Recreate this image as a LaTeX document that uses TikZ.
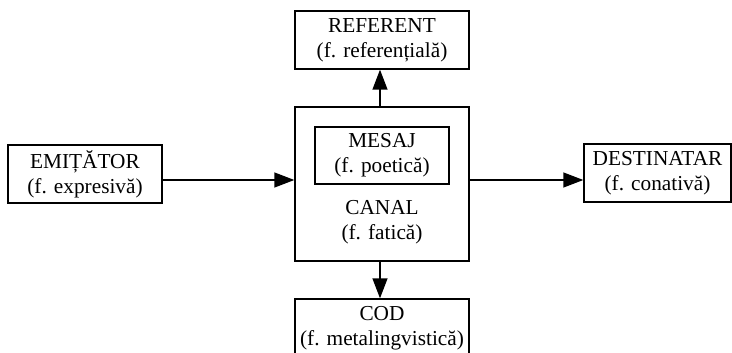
\documentclass[tikz,border=0pt]{standalone}
\usepackage{fontspec}
\setmainfont{Liberation Serif}
\usetikzlibrary{arrows.meta}
\begin{document}
\begin{tikzpicture}[x=1pt,y=-1pt,
  box/.style={draw,line width=1.4pt,inner sep=0pt,align=center,
    font=\fontsize{21.3}{25}\selectfont},
  lbl/.style={inner sep=0pt,align=center,font=\fontsize{21.3}{25}\selectfont},
  arr/.style={line width=1.4pt,-{Triangle[length=20pt,width=15pt]}}]
\useasboundingbox (0,0) rectangle (732,353);
\clip (0,0) rectangle (732,353);
\node[box,minimum width=154pt,minimum height=58pt] (emit) at (85,174) {EMIȚĂTOR\\(f. expresivă)};
\node[box,minimum width=174pt,minimum height=154pt] (canal) at (382,184) {};
\node[box,minimum width=134pt,minimum height=57pt] (mesaj) at (382,155.5) {MESAJ\\(f. poetică)};
\node[lbl] (canaltxt) at (382,222) {CANAL\\(f. fatică)};
\node[box,minimum width=174pt,minimum height=58pt] (ref) at (382,40) {REFERENT\\(f. referențială)};
\node[box,minimum width=174pt,minimum height=58pt] (cod) at (382,328) {COD\\(f. metalingvistică)};
\node[box,minimum width=147pt,minimum height=58pt] (dest) at (657.5,173) {DESTINATAR\\(f. conativă)};
\draw[arr] ([yshift=-6pt]emit.east) -- ([yshift=-6pt]emit.east -| canal.west);
\draw[arr] ([yshift=-6pt]emit.east -| canal.east) -- ([yshift=-6pt]emit.east -| dest.west);
\draw[arr] ([xshift=-2pt]canal.north) -- ([xshift=-2pt]ref.south);
\draw[arr] ([xshift=-2pt]canal.south) -- ([xshift=-2pt]cod.north);
\end{tikzpicture}
\end{document}
